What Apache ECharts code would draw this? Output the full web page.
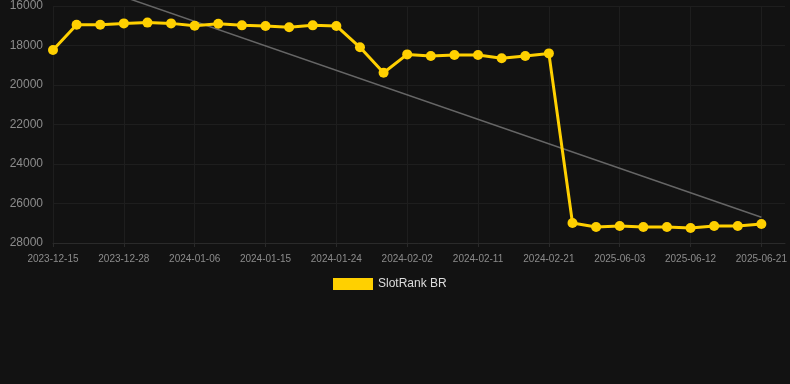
<!DOCTYPE html>
<html>
<head>
<meta charset="utf-8">
<script src="https://cdn.jsdelivr.net/npm/echarts@6/dist/echarts.min.js"></script>
<style>
html,body{margin:0;padding:0;background:#121212;}
#chart{width:790px;height:384px;}
</style>
</head>
<body>
<div id="chart"></div>
<script>
const categories = [
  '2023-12-15','2023-12-19','2023-12-24','2023-12-28','2023-12-31','2024-01-03',
  '2024-01-06','2024-01-09','2024-01-12','2024-01-15','2024-01-18','2024-01-21',
  '2024-01-24','2024-01-27','2024-01-30','2024-02-02','2024-02-05','2024-02-08',
  '2024-02-11','2024-02-14','2024-02-18','2024-02-21','2024-02-24','2025-05-31',
  '2025-06-03','2025-06-06','2025-06-09','2025-06-12','2025-06-15','2025-06-18',
  '2025-06-21'
];
const rankValues = [
  18230, 16945, 16945, 16880, 16840, 16880,
  17000, 16895, 16980, 17010, 17080, 16980,
  17010, 18090, 19380, 18450, 18530, 18480,
  18480, 18650, 18530, 18400, 26990, 27190,
  27140, 27190, 27190, 27240, 27140, 27140,
  27040
];
const trendStart = 14300;
const trendEnd = 26700;
const seriesName = 'SlotRank BR';

const trendData = categories.map((c, i) => i === 0 ? trendStart : (i === categories.length - 1 ? trendEnd : null));

const chart = echarts.init(document.getElementById('chart'), null, {renderer: 'canvas'});
chart.setOption({
  backgroundColor: '#121212',
  animation: false,
  grid: {left: 53, right: 5, top: 6, bottom: 141, containLabel: false},
  legend: {
    data: [seriesName],
    top: 273,
    left: 328,
    icon: 'rect',
    itemWidth: 40,
    itemHeight: 12,
    itemGap: 10,
    textStyle: {color: '#dddddd', fontSize: 12, fontFamily: 'Liberation Sans, Arial, sans-serif'}
  },
  xAxis: {
    type: 'category',
    data: categories,
    boundaryGap: false,
    min: 0,
    max: categories.length,
    axisLine: {lineStyle: {color: '#2a2a2a'}},
    axisTick: {show: true, interval: 2, length: 4, lineStyle: {color: '#2a2a2a'}},
    axisLabel: {interval: 2, color: '#8c8c8c', fontSize: 10, margin: 11, fontFamily: 'Liberation Sans, Arial, sans-serif'},
    splitLine: {show: true, interval: 2, lineStyle: {color: '#1e1e1e'}}
  },
  yAxis: {
    type: 'value',
    inverse: true,
    min: 16000,
    max: 28000,
    interval: 2000,
    axisLine: {show: false},
    axisTick: {show: false},
    axisLabel: {color: '#8c8c8c', fontSize: 12, margin: 10, fontFamily: 'Liberation Sans, Arial, sans-serif', formatter: v => String(v)},
    splitLine: {show: true, lineStyle: {color: '#1e1e1e'}}
  },
  series: [
    {
      name: 'trend',
      type: 'line',
      data: trendData,
      connectNulls: true,
      showSymbol: false,
      symbol: 'none',
      clip: false,
      silent: true,
      lineStyle: {color: '#666666', width: 1.5},
      z: 1
    },
    {
      name: seriesName,
      type: 'line',
      data: rankValues,
      symbol: 'circle',
      symbolSize: 10,
      showAllSymbol: true,
      itemStyle: {color: '#ffd000'},
      lineStyle: {color: '#ffd000', width: 3},
      z: 2
    }
  ]
});
</script>
</body>
</html>
